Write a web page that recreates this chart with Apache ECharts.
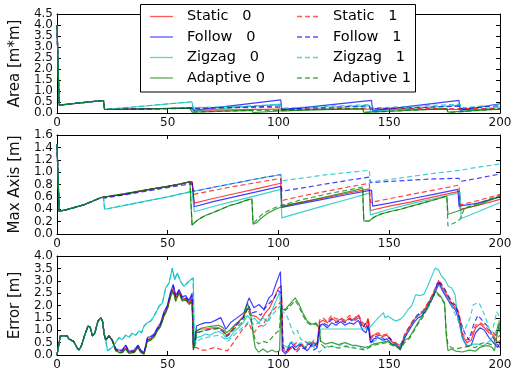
<!DOCTYPE html>
<html>
<head>
<meta charset="utf-8">
<script src="https://cdn.jsdelivr.net/npm/echarts@6/dist/echarts.min.js"></script>
<style>
html,body{margin:0;padding:0;background:#fff;}
#chart{width:525px;height:377px;}
</style>
</head>
<body>
<div id="chart"></div>
<script>
// ---- categories / labels ----
const legendLabels0 = ['Static   0', 'Follow   0', 'Zigzag   0', 'Adaptive 0'];
const legendLabels1 = ['Static   1', 'Follow   1', 'Zigzag   1', 'Adaptive 1'];
const lineColors = ['#ff0000', '#0000ff', '#00bfbf', '#008000'];
const xTicks = [0, 50, 100, 150, 200];
const areaTicks = [0, 0.5, 1, 1.5, 2, 2.5, 3, 3.5, 4, 4.5];
const axisTicks = [0, 0.2, 0.4, 0.6, 0.8, 1.0, 1.2, 1.4, 1.6];
const errorTicks = [0, 0.5, 1, 1.5, 2, 2.5, 3, 3.5, 4];

// ---- Area [m*m] : [step, value] ----
const areaStart = [[0,4.0],[1,0.36],[20,0.56],[21,0.56],[21.5,0.16]];
const areaStatic0 = [[60,0.22],[61.5,0.22],[62,0.12],[100,0.18],[101.5,0.18],[102,0.12],[141,0.17],[141.5,0.10],[181.5,0.16],[182,0.10],[200,0.16]];
const areaFollow0 = [[60,0.22],[61,0.22],[61.5,0.12],[101,0.60],[101.5,0.14],[142,0.57],[142.5,0.10],[181.5,0.57],[182,0.12],[200,0.42]];
const areaZigzag0 = [[60,0.50],[61,0.50],[61.5,0.10],[101,0.40],[101.5,0.08],[141,0.33],[141.5,0.08],[182,0.36],[182.5,0.06],[200,0.28]];
const areaAdaptive0 = [[60,0.22],[60.5,0.22],[61,0.04],[88,0.12],[88.5,0.02],[100,0.09],[138,0.20],[138.5,0.03],[176,0.20],[176.5,0.04],[200,0.18]];
const areaStatic1 = [[60,0.22],[61.5,0.22],[62,0.18],[101,0.26],[101.5,0.14],[141,0.22],[141.5,0.13],[181.5,0.20],[182,0.12],[200,0.20]];
const areaFollow1 = [[60,0.21],[61,0.21],[61.5,0.22],[101,0.32],[101.5,0.18],[141,0.33],[141.5,0.19],[181.5,0.31],[182,0.20],[200,0.33]];
const areaZigzag1 = [[60,0.50],[61,0.50],[61.5,0.24],[101,0.37],[101.5,0.22],[141,0.38],[141.5,0.22],[182,0.40],[182.5,0.24],[200,0.38]];
const areaAdaptive1 = [[60,0.22],[60.5,0.22],[61,0.04],[88,0.12],[88.5,0.03],[100,0.11],[138,0.22],[138.5,0.03],[176,0.20],[176.5,0.02],[182,0.05],[200,0.20]];

// ---- Max Axis [m] ----
const axisStart = [[0,1.45],[1,0.37],[4,0.39],[8,0.43],[12,0.47],[16,0.53],[20,0.59]];
const axisStatic0 = [[30,0.64],[40,0.71],[50,0.77],[60,0.84],[61,0.84],[62,0.50],[70,0.57],[80,0.65],[90,0.73],[101,0.82],[101.5,0.45],[110,0.51],[120,0.58],[130,0.65],[141,0.73],[141.5,0.38],[150,0.45],[160,0.52],[170,0.60],[181.5,0.69],[182,0.40],[190,0.46],[200,0.56]];
const axisFollow0 = [[30,0.64],[40,0.71],[50,0.77],[60,0.84],[61,0.84],[62,0.44],[70,0.52],[80,0.60],[90,0.68],[101,0.77],[101.5,0.43],[110,0.49],[120,0.56],[130,0.63],[142,0.71],[142.5,0.45],[150,0.50],[160,0.57],[170,0.64],[181,0.72],[181.5,0.45],[190,0.50],[200,0.60]];
const axisZigzagEarly = [[21,0.59],[21.5,0.40],[30,0.46],[40,0.53],[50,0.60],[60,0.68]];
const axisZigzag0 = [[61,0.68],[62,0.36],[70,0.44],[80,0.53],[90,0.62],[101,0.72],[101.5,0.26],[110,0.35],[120,0.45],[130,0.55],[141,0.66],[141.5,0.31],[150,0.40],[160,0.49],[170,0.57],[182,0.67],[182.5,0.25],[190,0.36],[200,0.51]];
const axisAdaptiveEarly = [[25,0.62],[30,0.65],[35,0.68],[40,0.71],[45,0.74],[50,0.77],[55,0.80],[60,0.85],[60.5,0.85],[61,0.14],[62,0.18],[64,0.24],[67,0.30],[70,0.34],[74,0.40],[78,0.46],[82,0.50],[85,0.54],[88,0.57]];
const axisAdaptive0 = [[88.5,0.16],[90,0.18],[92,0.25],[95,0.33],[98,0.39],[100,0.42],[105,0.47],[110,0.51],[115,0.55],[120,0.59],[125,0.63],[130,0.67],[134,0.70],[138,0.74],[138.5,0.21],[141,0.21],[143,0.27],[146,0.32],[150,0.36],[155,0.40],[160,0.45],[165,0.50],[170,0.55],[176,0.61],[176.5,0.32],[180,0.36],[185,0.42],[190,0.47],[195,0.54],[200,0.61]];
const axisStatic1 = [[30,0.64],[40,0.71],[50,0.77],[60,0.84],[61,0.84],[61.5,0.64],[70,0.70],[80,0.77],[90,0.83],[101,0.90],[101.5,0.54],[110,0.61],[120,0.68],[130,0.75],[141,0.82],[141.5,0.51],[150,0.57],[160,0.64],[170,0.71],[181.5,0.79],[182,0.47],[190,0.54],[200,0.64]];
const axisFollow1 = [[21,0.58],[30,0.63],[40,0.69],[50,0.75],[60,0.81],[61,0.81],[61.5,0.69],[70,0.75],[80,0.82],[90,0.89],[101,0.96],[101.5,0.69],[110,0.74],[120,0.80],[130,0.86],[141,0.92],[141.5,0.83],[150,0.85],[160,0.87],[170,0.89],[181.5,0.90],[182,0.85],[190,0.90],[200,0.97]];
const axisZigzag1 = [[70,0.75],[80,0.82],[90,0.89],[101,0.96],[101.5,0.86],[110,0.90],[120,0.95],[130,0.99],[141,1.03],[141.5,0.84],[150,0.88],[160,0.93],[170,0.98],[182,1.03],[190,1.08],[200,1.13]];
const axisAdaptive1 = [[88.5,0.18],[90,0.22],[92,0.30],[95,0.37],[98,0.42],[100,0.45],[105,0.50],[110,0.55],[115,0.59],[120,0.63],[125,0.67],[130,0.70],[134,0.73],[138,0.76],[138.5,0.21],[141,0.21],[143,0.27],[146,0.32],[150,0.36],[155,0.40],[160,0.45],[165,0.50],[170,0.55],[176,0.61],[176.5,0.13],[180,0.19],[182,0.24],[184,0.42],[190,0.49],[195,0.56],[200,0.63]];

// ---- Error [m] ----
const errStart = [[0,0],[1.5,0.77],[4.5,0.77],[5.5,0.64],[7.5,0.55],[9,0.3],[10,0.2],[11,0.37],[12.5,0.8],[14,1.17],[15,1.12],[16,0.77],[17,0.86],[18.5,1.37],[19.8,1.51],[20.6,1.35],[21.3,0.84],[22,0.6]];
const errAdaptiveEarly = [[23.5,0.77],[25,0.57],[26.5,0.17],[28,0.1],[29.5,0.1],[31,0.24],[32.5,0.06],[34.8,0.1],[36.6,0.31],[37.8,0.1],[39.3,0.04],[40.8,0.55],[42.3,0.6],[43.8,0.71],[45.3,0.97],[46.8,1.17],[48.3,1.57],[49.8,1.84],[51.3,2.37],[52.5,2.57],[53.6,2.17],[55.1,2.51],[56.6,2.17],[58.1,2.24],[59.6,2.04],[61,2.17],[61.6,0.2]];
const errZigzagEarly = [[22.8,0.17],[23.6,0.14],[25,0.31],[26.5,0.5],[28,0.7],[29.5,0.62],[31,0.8],[32.6,0.72],[34,0.88],[35.6,0.8],[37,0.98],[38.2,0.9],[39.3,1.17],[40.8,1.31],[42.3,1.37],[43.8,1.57],[46.1,1.97],[47.6,2.11],[49.1,2.71],[50.6,2.91],[52.1,3.51],[53.1,3.04],[54.3,3.31],[55.8,2.97],[57.3,2.77],[58.8,2.91],[60.3,3.04],[61.5,3.11],[62,0.31]];

const errStatic0 = [[23.5,0.77],[25,0.57],[26.5,0.2],[28,0.12],[29.5,0.12],[31,0.3],[32.5,0.08],[34.8,0.12],[36.6,0.33],[37.8,0.12],[39.3,0.05],[40.8,0.6],[42.3,0.65],[43.8,0.75],[45.3,1.0],[46.8,1.2],[48.3,1.62],[49.8,1.9],[51.3,2.42],[52.5,2.65],[53.6,2.25],[55.1,2.55],[56.6,2.22],[58.1,2.28],[59.6,2.1],[61,2.25],[61.6,0.25],
  [63,1.0],[65,1.05],[67,1.05],[70,1.1],[73,1.1],[75,1.0],[76.5,0.8],[78,0.9],[80,1.15],[82,1.35],[84,1.55],[86.5,1.9],[88,1.6],[90,1.55],[92,1.4],[94,1.7],[96,1.9],[98,2.3],[100,2.7],[101.3,2.8],[102,0.2],[104,0.1],[106,0.35],[108,0.2],[110,0.4],[112,0.3],[114,0.5],[116,0.35],[117.5,0.5],[118.5,1.3],[120,1.4],[122,1.3],[124,1.5],[126,1.35],[128,1.45],[130,1.35],[132,1.5],[134,1.4],[136,1.6],[138,1.2],[139.5,1.1],[140.5,1.45],[141.5,0.6],[143,0.8],[145,0.85],[147,0.75],[149,0.8],[151,0.55],[153,0.45],[155,0.3],[157,0.8],[159,1.1],[161,1.4],[163,1.6],[165,1.7],[167,2.0],[169,2.3],[171,2.7],[172.5,2.95],[174,2.7],[176,2.4],[178,2.1],[180,1.9],[181.5,1.6],[183,0.8],[185,0.5],[187,0.6],[189,1.1],[191,1.25],[193,1.1],[195,0.9],[197,0.8],[199,0.5],[200,0.6]];
const errFollow0 = [[23.5,0.77],[25,0.6],[26.5,0.25],[28,0.2],[29.5,0.2],[31,0.4],[32.5,0.15],[34.8,0.2],[36.6,0.4],[37.8,0.2],[39.3,0.1],[40.8,0.7],[42.3,0.75],[43.8,0.85],[45.3,1.1],[46.8,1.3],[48.3,1.75],[49.8,2.0],[51.3,2.55],[52.5,2.85],[53.6,2.4],[55.1,2.65],[56.6,2.35],[58.1,2.4],[59.6,2.2],[61,2.5],[61.6,0.3],
  [63,1.17],[65,1.25],[67,1.31],[69.4,1.31],[71.5,1.4],[73.9,1.51],[75,1.3],[76.2,1.04],[78.4,1.31],[81.4,1.51],[84.4,1.71],[86.7,2.31],[88.9,1.91],[91.2,2.04],[93.4,1.84],[95.7,2.31],[97.2,2.44],[98.7,2.84],[100.9,3.37],[101.7,0.17],[103.2,0.04],[105.4,0.51],[107.7,0.31],[109.9,0.44],[112.9,0.17],[115.9,0.51],[117.5,0.3],[118.5,1.2],[120,1.25],[122,1.1],[124,1.3],[126,1.2],[128,1.35],[130,1.2],[132,1.3],[134,1.25],[136,1.4],[138,1.0],[139.5,0.9],[140.5,1.2],[141.5,0.5],[143,0.65],[145,0.7],[147,0.6],[149,0.65],[151,0.45],[153,0.4],[155,0.2],[157,0.7],[159,1.0],[161,1.3],[163,1.5],[165,1.6],[167,1.9],[169,2.2],[171,2.6],[172.5,2.9],[174,2.6],[176,2.3],[178,2.0],[180,1.8],[181.5,1.4],[183,0.7],[185,0.35],[187,0.4],[189,0.9],[191,1.1],[193,1.0],[195,0.7],[197,0.5],[199,0.3],[200,0.5]];
const errZigzag0 = [[63,0.7],[65,0.75],[67,0.85],[69,0.8],[71,0.9],[73,0.95],[75,0.85],[76.5,0.65],[78,0.7],[80,0.95],[82,1.1],[84,1.3],[86,1.6],[87.5,1.4],[89,1.5],[91,1.3],[93,1.5],[95,1.35],[97,1.8],[99,2.2],[100.5,2.55],[101.3,2.6],[102,0.4],[104,0.3],[106,0.55],[108,0.35],[110,0.5],[112,0.3],[114,0.55],[116,0.4],[118,0.6],[119,1.05],[125,1.05],[130,1.05],[135,1.05],[139,1.05],[141,1.1],[143,1.3],[145,1.5],[147.4,1.71],[148,1.51],[149.5,1.57],[151.5,1.44],[153,1.37],[155,1.45],[156.5,1.57],[158.5,1.84],[160,1.97],[162,2.44],[163.5,2.4],[165.5,2.44],[167,2.71],[170.7,3.51],[172.2,3.44],[173.7,3.17],[175.2,3.04],[176.7,2.77],[178.2,2.71],[179.7,2.44],[180.5,1.84],[182,1.11],[183.5,0.57],[185.5,0.37],[188,0.44],[190,0.44],[192.5,0.37],[195.5,0.57],[197.5,0.84],[199,1.11],[200,1.0]];
const errAdaptive0 = [[63,0.95],[65,1.08],[67,1.12],[70,1.17],[73,1.2],[75,1.1],[76.5,0.9],[78,1.0],[80,1.2],[82,1.35],[84,1.5],[86,2.1],[87.5,1.6],[88.5,0.85],[89.5,0.3],[91,0.11],[93,0.24],[95,0.11],[97,0.2],[99,0.12],[100.5,0.17],[101,1.84],[103,1.84],[105,2.04],[107.5,2.31],[109,2.1],[111,1.7],[113,1.37],[115,1.24],[117,1.3],[118.5,1.04],[119,0.57],[121,0.44],[124,0.51],[127,0.42],[130,0.5],[133,0.4],[136,0.37],[139,0.31],[141,0.35],[143,0.45],[146,0.5],[149,0.55],[152,0.4],[155,0.3],[157,0.6],[159,0.7],[161,1.0],[163,1.31],[165,1.6],[167,1.91],[169,2.3],[171,2.57],[173,2.4],[175,2.11],[175.7,0.84],[176.5,0.17],[178,0.24],[180,0.16],[183,0.12],[186,0.2],[189,0.16],[191,0.31],[193,0.37],[195,0.37],[196.5,0.3],[197.5,0.17],[198.5,0.71],[199.5,1.24],[200,0.9]];
const errStatic1 = [[23.5,0.77],[25,0.57],[26.5,0.22],[28,0.15],[29.5,0.14],[31,0.3],[32.5,0.1],[34.8,0.14],[36.6,0.33],[37.8,0.14],[39.3,0.06],[40.8,0.62],[42.3,0.66],[43.8,0.77],[45.3,1.02],[46.8,1.22],[48.3,1.64],[49.8,1.9],[51.3,2.45],[52.5,2.7],[53.6,2.28],[55.1,2.58],[56.6,2.25],[58.1,2.3],[59.6,2.12],[61,2.3],[61.6,0.3],
  [63,0.3],[65,0.2],[67,0.2],[69,0.25],[71,0.3],[73,0.25],[75,0.2],[77,0.17],[78.5,0.35],[80,0.55],[82,0.8],[83.5,1.0],[85,1.15],[86.5,1.3],[88,1.0],[89,0.9],[91,1.15],[93,1.2],[95,1.55],[97,1.75],[99,1.95],[100.5,2.1],[101.5,2.15],[102,0.3],[104,0.15],[106,0.3],[108,0.5],[110,0.35],[112,0.55],[114,0.4],[116,0.6],[117.5,0.4],[118.5,1.4],[120,1.5],[122,1.35],[124,1.6],[126,1.45],[128,1.5],[130,1.4],[132,1.6],[134,1.45],[136,1.65],[138,1.3],[139.5,1.2],[140.5,1.5],[141.5,0.7],[143,0.85],[145,0.9],[147,0.8],[149,0.85],[151,0.6],[153,0.5],[155,0.35],[157,0.85],[159,1.15],[161,1.45],[163,1.65],[165,1.75],[167,2.05],[169,2.35],[171,2.75],[172.5,3.05],[174,2.8],[176,2.5],[178,2.2],[180,2.0],[181.5,1.7],[183,0.9],[185,0.6],[187,0.75],[189,1.2],[191,1.3],[193,1.2],[195,1.0],[197,0.9],[199,0.7],[200,0.8]];
const errFollow1 = [[23.5,0.77],[25,0.6],[26.5,0.25],[28,0.15],[29.5,0.2],[31,0.4],[32.5,0.12],[34.8,0.15],[36.6,0.38],[37.8,0.15],[39.3,0.08],[40.8,0.65],[42.3,0.7],[43.8,0.8],[45.3,1.05],[46.8,1.25],[48.3,1.7],[49.8,1.95],[51.3,2.5],[52.5,2.8],[53.6,2.35],[55.1,2.6],[56.6,2.3],[58.1,2.35],[59.6,2.15],[61,2.4],[61.6,0.3],
  [63,0.9],[65,0.95],[67,1.0],[70,1.05],[73,1.05],[75,0.95],[76.5,0.75],[78,0.85],[80,1.1],[82,1.3],[84,1.5],[86.5,2.0],[88,1.7],[90,1.75],[92,1.6],[94,1.9],[96,2.1],[98,2.3],[100,2.6],[101.3,2.5],[102,0.3],[104,0.2],[106,0.4],[108,0.1],[110,0.3],[112,0.25],[114,0.45],[116,0.2],[117.5,0.3],[118.5,1.1],[120,1.3],[122,1.2],[124,1.45],[126,1.3],[128,1.4],[130,1.3],[132,1.45],[134,1.35],[136,1.5],[138,1.1],[139.5,1.3],[141,0.9],[142,0.5],[144,0.75],[146,0.8],[148,0.6],[150,0.7],[152,0.5],[154,0.35],[156,0.5],[158,0.9],[160,1.2],[162,1.5],[164,1.75],[166,1.7],[168,2.0],[170,2.4],[172,3.0],[174,2.8],[176,2.5],[178,2.1],[180,2.0],[182,1.4],[184,0.9],[186,0.6],[188,1.2],[190,1.6],[192,1.4],[194,1.2],[196,0.9],[198,0.5],[200,0.3]];
const errZigzag1 = [[63,0.55],[65,0.65],[67,0.7],[70,0.75],[73,0.8],[75,0.7],[77,0.55],[79,0.7],[81,0.9],[83,1.05],[85,1.2],[87,1.4],[89,1.2],[91,1.3],[93,1.15],[95,1.3],[97,1.6],[99,1.8],[101,2.0],[102,1.75],[104,1.55],[105.5,1.17],[107,0.84],[108.5,1.0],[110,0.64],[113,0.51],[116,0.31],[118.5,0.11],[120,0.24],[123,0.4],[126,0.3],[129,0.45],[132,0.3],[135,0.4],[138,0.25],[140,0.3],[141.5,0.35],[143,0.55],[146,0.7],[149,0.6],[152,0.5],[154.5,0.3],[156,0.6],[158,0.9],[160,1.2],[162,1.5],[164,1.7],[166,1.75],[168,2.0],[170,2.5],[172,2.8],[174,2.7],[176,2.4],[178,2.0],[180,1.6],[182,1.2],[184,1.0],[186.5,1.51],[188,2.04],[190.5,2.11],[192,1.84],[194,1.37],[196,0.84],[197.5,1.31],[198.5,1.75],[200,1.5]];
const errAdaptive1 = [[63,0.85],[65,0.95],[67,1.0],[70,1.05],[73,1.08],[75,0.95],[76.5,0.75],[78,0.85],[80,1.05],[82,1.2],[84,1.35],[86,1.9],[87.5,1.5],[88.5,1.0],[89.5,0.6],[91,0.45],[93,0.55],[95,0.5],[97,0.7],[99,0.9],[100.5,1.0],[101,1.9],[103,1.8],[105,1.95],[107.5,2.2],[109,2.0],[111,1.6],[113,1.3],[115,1.2],[117,1.25],[118.5,1.0],[119,0.45],[121,0.3],[124,0.35],[127,0.28],[130,0.35],[133,0.3],[136,0.25],[139,0.2],[141,0.3],[143,0.4],[146,0.45],[149,0.5],[152,0.35],[155,0.25],[157,0.5],[159,0.65],[161,0.95],[163,1.25],[165,1.5],[167,1.85],[169,2.25],[171,2.5],[173,2.35],[175,2.05],[175.7,1.0],[176.5,0.4],[178,0.3],[180,0.25],[183,0.3],[186,0.35],[189,0.3],[191,0.45],[193,0.5],[195,0.45],[197,0.4],[198.5,0.9],[199.5,1.4],[200,1.1]];

// ---- assemble per-panel line lists (order: Static0, Follow0, Zigzag0, Adaptive0, Static1, Follow1, Zigzag1, Adaptive1) ----
const panelLines = [
  [
    areaStart.concat(areaStatic0), areaStart.concat(areaFollow0), areaStart.concat(areaZigzag0), areaStart.concat(areaAdaptive0),
    areaStart.concat(areaStatic1), areaStart.concat(areaFollow1), areaStart.concat(areaZigzag1), areaStart.concat(areaAdaptive1)
  ],
  [
    axisStart.concat(axisStatic0), axisStart.concat(axisFollow0),
    axisStart.concat(axisZigzagEarly, axisZigzag0), axisStart.concat(axisAdaptiveEarly, axisAdaptive0),
    axisStart.concat(axisStatic1), axisStart.concat(axisFollow1),
    axisStart.concat(axisZigzagEarly, axisZigzag1), axisStart.concat(axisAdaptiveEarly, axisAdaptive1)
  ],
  [
    errStart.concat(errStatic0), errStart.concat(errFollow0),
    errStart.concat(errZigzagEarly, errZigzag0), errStart.concat(errAdaptiveEarly, errAdaptive0),
    errStart.concat(errStatic1), errStart.concat(errFollow1),
    errStart.concat(errZigzagEarly, errZigzag1), errStart.concat(errAdaptiveEarly, errAdaptive1)
  ]
];

const FONT = 'DejaVu Sans';
const seriesNames = legendLabels0.concat(legendLabels1);
const panelTicks = [areaTicks, axisTicks, errorTicks];
const panelNames = ['Area [m*m]', 'Max Axis [m]', 'Error [m]'];
const gridTops = [14, 135, 256];
const GRID_H = 99;
const DASH = [5, 3];

const grids = gridTops.map(t => ({ left: 56, right: 25, top: t, height: GRID_H, containLabel: false }));

const yLabelStyle = { margin: 4, color: '#111', fontFamily: FONT, fontSize: 12, hideOverlap: false };
const isWhole = v => Math.round(v * 2) % 2 === 0;

const xAxes = [];
const yAxes = [];
for (let p = 0; p < 3; p++) {
  xAxes.push({
    type: 'value', gridIndex: p, min: xTicks[0], max: xTicks[xTicks.length - 1], interval: 50,
    axisLine: { onZero: false, lineStyle: { color: '#000', width: 1 } },
    axisTick: { inside: true, length: 4, lineStyle: { color: '#000' } },
    axisLabel: { margin: 4, color: '#111', fontFamily: FONT, fontSize: 12, showMinLabel: true, showMaxLabel: true },
    splitLine: { show: false }
  });
  const ticks = panelTicks[p];
  // the densely labelled area scale shows its whole-number labels here and the halves on a twin axis
  const label = p === 0
    ? Object.assign({}, yLabelStyle, { showMinLabel: true, showMaxLabel: false, formatter: v => isWhole(v) ? v.toFixed(1) : '' })
    : Object.assign({}, yLabelStyle, { showMinLabel: true, showMaxLabel: true, formatter: v => v.toFixed(1) });
  yAxes.push({
    type: 'value', gridIndex: p, min: ticks[0], max: ticks[ticks.length - 1], interval: ticks[1] - ticks[0],
    name: panelNames[p], nameLocation: 'middle', nameGap: 27,
    nameTextStyle: { fontFamily: FONT, fontSize: 15, color: '#111' },
    axisLine: { onZero: false, lineStyle: { color: '#000', width: 1 } },
    axisTick: { inside: true, length: 4, lineStyle: { color: '#000' } },
    axisLabel: label,
    splitLine: { show: false }
  });
}
// frame on the top and right with inward ticks
for (let p = 0; p < 3; p++) {
  xAxes.push({
    type: 'value', gridIndex: p, position: 'top', min: 0, max: 200, interval: 50,
    axisLine: { onZero: false, lineStyle: { color: '#000', width: 1 } },
    axisTick: { inside: true, length: 4, lineStyle: { color: '#000' } },
    axisLabel: { show: false }, splitLine: { show: false }
  });
  const ticks = panelTicks[p];
  yAxes.push({
    type: 'value', gridIndex: p, position: 'right', min: ticks[0], max: ticks[ticks.length - 1], interval: ticks[1] - ticks[0],
    axisLine: { onZero: false, lineStyle: { color: '#000', width: 1 } },
    axisTick: { inside: true, length: 4, lineStyle: { color: '#000' } },
    axisLabel: { show: false }, splitLine: { show: false }
  });
}
// twin area scale carrying the half-step labels (0.5, 1.5, ... 4.5)
yAxes.push({
  type: 'value', gridIndex: 0, position: 'left', min: areaTicks[0], max: areaTicks[areaTicks.length - 1], interval: areaTicks[1] - areaTicks[0],
  axisLine: { show: false }, axisTick: { show: false }, splitLine: { show: false },
  axisLabel: Object.assign({}, yLabelStyle, { showMinLabel: false, showMaxLabel: true, formatter: v => isWhole(v) ? '' : v.toFixed(1) })
});

const series = [];
for (let p = 0; p < 3; p++) {
  for (let k = 0; k < 8; k++) {
    const color = lineColors[k % 4];
    series.push({
      type: 'line', name: seriesNames[k], xAxisIndex: p, yAxisIndex: p,
      data: panelLines[p][k], symbol: 'none', showSymbol: false,
      lineStyle: { color: color, width: 1.2, opacity: 0.75, type: k >= 4 ? DASH : 'solid' },
      itemStyle: { color: color },
      emphasis: { disabled: true }
    });
  }
}

// legend box: two columns of line samples with their labels
const legendGraphics = [{
  type: 'rect', z: 15, silent: true,
  shape: { x: 140.5, y: 4.5, width: 275, height: 87.5 },
  style: { fill: '#fff', stroke: '#000', lineWidth: 1 }
}];
const legendRowY = [16.5, 37, 57.5, 78];
const legendCols = [{ lineX: 150, textX: 187, labels: legendLabels0, dash: null },
                    { lineX: 297, textX: 333, labels: legendLabels1, dash: DASH }];
legendCols.forEach(col => {
  col.labels.forEach((label, i) => {
    legendGraphics.push({
      type: 'line', z: 16, silent: true,
      shape: { x1: col.lineX, y1: legendRowY[i], x2: col.lineX + 23, y2: legendRowY[i] },
      style: { stroke: lineColors[i], lineWidth: 1.3, opacity: 0.65, lineDash: col.dash }
    });
    legendGraphics.push({
      type: 'text', z: 16, silent: true, x: col.textX, y: legendRowY[i],
      style: { text: label, fill: '#000', font: '14.5px "DejaVu Sans"', textVerticalAlign: 'middle', verticalAlign: 'middle' }
    });
  });
});

const chart = echarts.init(document.getElementById('chart'), null, { renderer: 'canvas' });
chart.setOption({
  animation: false,
  backgroundColor: '#fff',
  grid: grids,
  xAxis: xAxes,
  yAxis: yAxes,
  graphic: legendGraphics,
  series: series
});
</script>
</body>
</html>
